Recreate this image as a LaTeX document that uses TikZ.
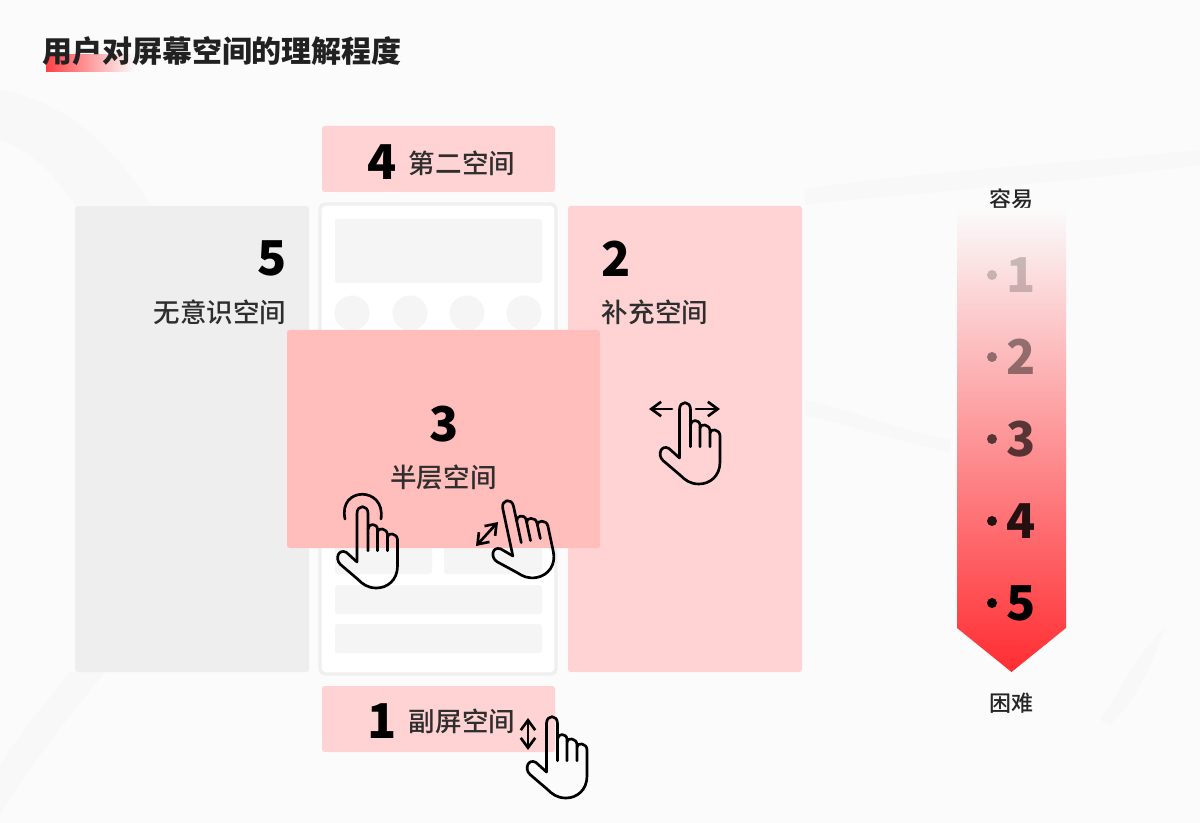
\documentclass[tikz,border=0pt]{standalone}
\usepackage{fontspec}
\setmainfont{Noto Sans CJK SC}
\newfontfamily\numfont{Noto Sans CJK SC Black}
\newfontfamily\labfont{Noto Sans CJK SC Medium}
\definecolor{mPaper}{HTML}{FBFBFB}
\definecolor{mBrush}{HTML}{F8F8F8}
\definecolor{mPink}{HTML}{FFD3D3}
\definecolor{mSheet}{HTML}{FFBDBB}
\definecolor{mGrayBox}{HTML}{EEEEEE}
\definecolor{mFrame}{HTML}{EFEFEF}
\definecolor{mBlock}{HTML}{F5F5F5}
\definecolor{mRed}{HTML}{FF2D32}
\definecolor{mInk}{HTML}{2E2E2E}
\usetikzlibrary{arrows.meta}

\begin{document}
\begin{tikzpicture}[x=0.75pt, y=-0.75pt,
  panel/.style={rounded corners=2pt},
  block/.style={fill=mBlock, rounded corners=2pt},
  num/.style={font=\fontsize{36}{36}\numfont, text=black, inner sep=0pt},
  lab/.style={font=\fontsize{19.9}{20}\labfont, text=mInk, inner sep=0pt},
  tiny/.style={font=\fontsize{16.5}{17}\labfont, text=black!85, inner sep=0pt},
  gesture/.style={line width=2pt, black, line cap=round, line join=round},
  swipe/.style={gesture, {Straight Barb[length=2.6mm,width=3.8mm]}-{Straight Barb[length=2.6mm,width=3.8mm]}},
  hand/.pic={
    \draw[gesture] (-5.5,54) -- (-5.5,5.5) .. controls (-5.5,-3.6) and (5.5,-3.6) .. (5.5,5.5) -- (5.5,42.7);
    \draw[gesture] (5.5,21) .. controls (5.5,15) and (15,15) .. (15,21.5) -- (15,42.7);
    \draw[gesture] (15,24) .. controls (15,19) and (25,20) .. (25,27) -- (25,42.7);
    \draw[gesture] (25,29) .. controls (25,24) and (35,25) .. (35,32) -- (35,58)
      .. controls (35,72) and (25,80) .. (14,80) .. controls (5,80) and (0,76) .. (-5,71)
      -- (-22,56.5) .. controls (-28,51) and (-24,40) .. (-16,44.5) -- (-5.5,54);
  }]
  \useasboundingbox (0,0) rectangle (1200,823);
  \fill[mPaper] (0,0) rectangle (1200,823);

  % brush marks
  \fill[mBrush] (0,815) .. controls (40,750) and (75,710) .. (105,672) -- (70,672) .. controls (40,710) and (15,740) .. (0,765) -- cycle;
  \fill[mBrush] (0,90) .. controls (60,100) and (110,140) .. (150,205) -- (75,205) .. controls (50,170) and (30,150) .. (0,140) -- cycle;
  \fill[mBrush] (805,400) .. controls (850,410) and (900,430) .. (950,440) -- (950,452) .. controls (900,442) and (850,425) .. (805,415) -- cycle;
  \fill[mBrush] (805,190) .. controls (880,175) and (1050,165) .. (1200,150) -- (1200,165) .. controls (1050,185) and (880,195) .. (805,205) -- cycle;
  \fill[mBrush] (1100,720) .. controls (1120,690) and (1140,650) .. (1165,628) .. controls (1150,670) and (1135,700) .. (1110,725) -- cycle;

  % title
  \shade[left color=mRed!90!white, right color=mPaper] (46,55) rectangle (135,72);
  \node[font=\fontsize{22.5}{23}\bfseries, text=black!87, inner sep=0pt] (title) at (222,51) {用户对屏幕空间的理解程度};

  % side panels
  \fill[mGrayBox, panel] (75,206) rectangle (309,672);
  \fill[mPink, panel] (568,206) rectangle (802,672);
  \fill[mPink, panel] (322,126) rectangle (555,192);
  \fill[mPink, panel] (322,686) rectangle (555,752);

  % phone
  \draw[mFrame, line width=2.6pt, fill=white, rounded corners=4pt] (320,204) rectangle (556,674);
  \fill[block] (335,219) rectangle (542,283);
  \foreach \x in {352,410,467,524}{\fill[mBlock] (\x,313) circle [radius=17.5];}
  \fill[block] (335,520) rectangle (432,574);
  \fill[block] (444,520) rectangle (542,574);
  \fill[block] (335,585) rectangle (542,614);
  \fill[block] (335,624) rectangle (542,653);

  % half sheet
  \fill[mSheet, panel] (287,330) rectangle (600,548);

  % labels
  \node[num] (n4) at (382,162) {4};
  \node[lab] (l4) at (462,163) {第二空间};
  \node[num] (n5) at (272,258) {5};
  \node[lab] (l5) at (220,312.5) {无意识空间};
  \node[num] (n2) at (616,259) {2};
  \node[lab] (l2) at (655,312.5) {补充空间};
  \node[num] (n3) at (444,424) {3};
  \node[lab] (l3) at (443.5,477.5) {半层空间};
  \node[num] (n1) at (382,721) {1};
  \node[lab] (l1) at (462,721.5) {副屏空间};

  % gestures
  \pic at (362.5,508) {hand};
  \draw[gesture] (345,519) .. controls (338,486) and (386,486) .. (381,519);
  \pic[rotate=12] at (507,502) {hand};
  \draw[swipe] (498,522) -- (476,546);
  \pic at (685,404) {hand};
  \draw[gesture, -{Straight Barb[length=2.6mm,width=3.8mm]}] (672,409) -- (649,409);
  \draw[gesture, -{Straight Barb[length=2.6mm,width=3.8mm]}] (696,409) -- (720,409);
  \pic at (552,718) {hand};
  \draw[swipe] (528,718) -- (528,750);

  % difficulty scale
  \node[tiny] (easy) at (1011,199) {容易};
  \shade[top color=mPaper, bottom color=mRed] (957,208) -- (1066,208) -- (1066,628) -- (1011.5,672) -- (957,628) -- cycle;
  \node[tiny] (hard) at (1011,703) {困难};
  \foreach \n/\y/\o in {1/275/.2, 2/357/.42, 3/439/.65, 4/521/.85, 5/603/1}{
    \fill[black, opacity=\o] (992,\y) circle [radius=5];
    \node[num, text opacity=\o] (s\n) at (1021,\y) {\n};
  }
\end{tikzpicture}
\end{document}
